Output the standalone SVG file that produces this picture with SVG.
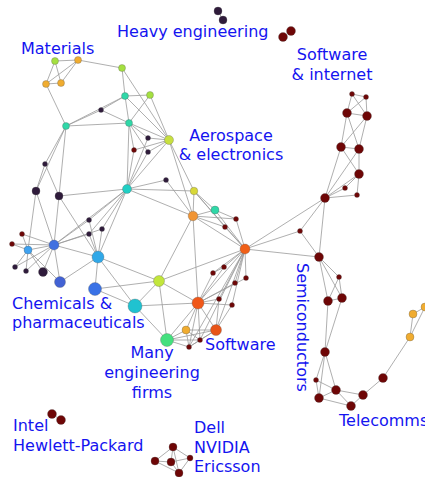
<svg xmlns="http://www.w3.org/2000/svg" width="425" height="477" viewBox="0 0 425 477">
<style>
.e line{stroke:#9a9a9a;stroke-width:0.8}
circle{stroke:#555;stroke-width:0.5;stroke-opacity:0.6}
.pu{fill:#2f1b3b}.dr{fill:#6e0606}.or{fill:#f0ac30}.lg{fill:#a4e040}.tg{fill:#30d8a8}
.tc{fill:#20cfc4}.tb{fill:#20c2d0}.yg{fill:#c8e040}.yy{fill:#d8d838}.y3{fill:#c2e63c}
.o1{fill:#f09434}.o2{fill:#f06018}.o3{fill:#f0581a}.o4{fill:#e85418}.gr{fill:#44e07e}
.b1{fill:#4070e0}.lb{fill:#3fa2f0}.b2{fill:#30a8e8}.b3{fill:#4262d4}.b4{fill:#3a72e6}
text{font-family:"DejaVu Sans",Verdana,sans-serif;font-size:16px;fill:#1414f0}
</style>
<g id="connectors" class="e">
<line x1="55" y1="61" x2="78" y2="60"/><line x1="55" y1="61" x2="46" y2="84"/><line x1="55" y1="61" x2="61" y2="83"/>
<line x1="78" y1="60" x2="46" y2="84"/><line x1="78" y1="60" x2="61" y2="83"/><line x1="46" y1="84" x2="61" y2="83"/>
<line x1="78" y1="60" x2="122" y2="68"/><line x1="46" y1="84" x2="66" y2="126"/>
<line x1="122" y1="68" x2="125" y2="96"/><line x1="122" y1="68" x2="169" y2="140"/>
<line x1="125" y1="96" x2="150" y2="95"/><line x1="125" y1="96" x2="66" y2="126"/><line x1="125" y1="96" x2="101" y2="110"/>
<line x1="125" y1="96" x2="129" y2="123"/><line x1="125" y1="96" x2="169" y2="140"/>
<line x1="150" y1="95" x2="129" y2="123"/><line x1="150" y1="95" x2="169" y2="140"/>
<line x1="101" y1="110" x2="66" y2="126"/><line x1="101" y1="110" x2="129" y2="123"/>
<line x1="66" y1="126" x2="129" y2="123"/><line x1="66" y1="126" x2="45" y2="164"/><line x1="66" y1="126" x2="36" y2="191"/><line x1="66" y1="126" x2="59" y2="196"/>
<line x1="129" y1="123" x2="169" y2="140"/><line x1="129" y1="123" x2="148" y2="138"/><line x1="129" y1="123" x2="134" y2="150"/>
<line x1="129" y1="123" x2="148" y2="152"/><line x1="129" y1="123" x2="127" y2="189"/>
<line x1="169" y1="140" x2="148" y2="138"/><line x1="169" y1="140" x2="148" y2="152"/><line x1="169" y1="140" x2="134" y2="150"/>
<line x1="169" y1="140" x2="127" y2="189"/><line x1="169" y1="140" x2="194" y2="191"/><line x1="169" y1="140" x2="193" y2="216"/>
<line x1="127" y1="189" x2="148" y2="138"/><line x1="127" y1="189" x2="134" y2="150"/><line x1="127" y1="189" x2="148" y2="152"/>
<line x1="127" y1="189" x2="166" y2="180"/><line x1="127" y1="189" x2="194" y2="191"/><line x1="127" y1="189" x2="193" y2="216"/>
<line x1="127" y1="189" x2="59" y2="196"/><line x1="127" y1="189" x2="89" y2="220"/><line x1="127" y1="189" x2="102" y2="229"/>
<line x1="127" y1="189" x2="89" y2="234"/><line x1="127" y1="189" x2="54" y2="245"/><line x1="127" y1="189" x2="98" y2="257"/>
<line x1="166" y1="180" x2="193" y2="216"/>
<line x1="194" y1="191" x2="193" y2="216"/><line x1="194" y1="191" x2="215" y2="210"/><line x1="194" y1="191" x2="225" y2="227"/><line x1="194" y1="191" x2="245" y2="249"/>
<line x1="193" y1="216" x2="215" y2="210"/><line x1="193" y1="216" x2="236" y2="219"/><line x1="193" y1="216" x2="225" y2="227"/>
<line x1="193" y1="216" x2="245" y2="249"/><line x1="193" y1="216" x2="159" y2="281"/><line x1="193" y1="216" x2="198" y2="303"/>
<line x1="215" y1="210" x2="245" y2="249"/><line x1="215" y1="210" x2="236" y2="219"/>
<line x1="236" y1="219" x2="245" y2="249"/><line x1="225" y1="227" x2="245" y2="249"/>
<line x1="245" y1="249" x2="159" y2="281"/><line x1="245" y1="249" x2="213" y2="273"/><line x1="245" y1="249" x2="224" y2="267"/>
<line x1="245" y1="249" x2="246" y2="278"/><line x1="245" y1="249" x2="235" y2="283"/><line x1="245" y1="249" x2="219" y2="299"/>
<line x1="245" y1="249" x2="232" y2="305"/><line x1="245" y1="249" x2="198" y2="303"/><line x1="245" y1="249" x2="216" y2="330"/>
<line x1="245" y1="249" x2="325" y2="198"/><line x1="245" y1="249" x2="300" y2="231"/><line x1="245" y1="249" x2="319" y2="257"/>
<line x1="245" y1="249" x2="200" y2="340"/><line x1="245" y1="249" x2="189" y2="347"/>
<line x1="213" y1="273" x2="224" y2="267"/><line x1="213" y1="273" x2="198" y2="303"/><line x1="224" y1="267" x2="198" y2="303"/>
<line x1="246" y1="278" x2="198" y2="303"/><line x1="235" y1="283" x2="198" y2="303"/><line x1="219" y1="299" x2="198" y2="303"/>
<line x1="219" y1="299" x2="216" y2="330"/><line x1="232" y1="305" x2="216" y2="330"/><line x1="232" y1="305" x2="198" y2="303"/>
<line x1="198" y1="303" x2="159" y2="281"/><line x1="198" y1="303" x2="167" y2="340"/><line x1="198" y1="303" x2="186" y2="330"/>
<line x1="198" y1="303" x2="216" y2="330"/><line x1="198" y1="303" x2="200" y2="340"/><line x1="198" y1="303" x2="189" y2="347"/>
<line x1="198" y1="303" x2="135" y2="306"/>
<line x1="216" y1="330" x2="186" y2="330"/><line x1="216" y1="330" x2="167" y2="340"/><line x1="216" y1="330" x2="200" y2="340"/><line x1="216" y1="330" x2="189" y2="347"/>
<line x1="167" y1="340" x2="159" y2="281"/><line x1="167" y1="340" x2="186" y2="330"/><line x1="167" y1="340" x2="200" y2="340"/>
<line x1="167" y1="340" x2="189" y2="347"/><line x1="167" y1="340" x2="135" y2="306"/>
<line x1="186" y1="330" x2="200" y2="340"/><line x1="200" y1="340" x2="189" y2="347"/><line x1="186" y1="330" x2="189" y2="347"/>
<line x1="159" y1="281" x2="98" y2="257"/><line x1="159" y1="281" x2="95" y2="289"/><line x1="159" y1="281" x2="135" y2="306"/>
<line x1="135" y1="306" x2="95" y2="289"/><line x1="135" y1="306" x2="98" y2="257"/>
<line x1="98" y1="257" x2="95" y2="289"/><line x1="98" y1="257" x2="60" y2="282"/><line x1="98" y1="257" x2="89" y2="220"/>
<line x1="98" y1="257" x2="102" y2="229"/><line x1="98" y1="257" x2="89" y2="234"/><line x1="98" y1="257" x2="54" y2="245"/><line x1="98" y1="257" x2="59" y2="196"/>
<line x1="54" y1="245" x2="28" y2="250"/><line x1="54" y1="245" x2="36" y2="191"/><line x1="54" y1="245" x2="59" y2="196"/>
<line x1="54" y1="245" x2="43" y2="272"/><line x1="54" y1="245" x2="60" y2="282"/><line x1="54" y1="245" x2="15" y2="267"/>
<line x1="54" y1="245" x2="26" y2="271"/><line x1="54" y1="245" x2="22" y2="234"/><line x1="54" y1="245" x2="12" y2="244"/>
<line x1="54" y1="245" x2="89" y2="220"/><line x1="54" y1="245" x2="102" y2="229"/><line x1="54" y1="245" x2="89" y2="234"/>
<line x1="28" y1="250" x2="22" y2="234"/><line x1="28" y1="250" x2="12" y2="244"/><line x1="28" y1="250" x2="15" y2="267"/>
<line x1="28" y1="250" x2="26" y2="271"/><line x1="28" y1="250" x2="36" y2="191"/><line x1="28" y1="250" x2="43" y2="272"/><line x1="28" y1="250" x2="60" y2="282"/>
<line x1="45" y1="164" x2="36" y2="191"/><line x1="45" y1="164" x2="59" y2="196"/>
<line x1="325" y1="198" x2="341" y2="147"/><line x1="325" y1="198" x2="359" y2="149"/><line x1="325" y1="198" x2="359" y2="174"/>
<line x1="325" y1="198" x2="345" y2="188"/><line x1="325" y1="198" x2="357" y2="195"/><line x1="325" y1="198" x2="300" y2="231"/><line x1="325" y1="198" x2="319" y2="257"/>
<line x1="352" y1="94" x2="366" y2="97"/><line x1="352" y1="94" x2="347" y2="113"/><line x1="352" y1="94" x2="367" y2="116"/>
<line x1="366" y1="97" x2="367" y2="116"/><line x1="366" y1="97" x2="347" y2="113"/><line x1="347" y1="113" x2="367" y2="116"/>
<line x1="347" y1="113" x2="341" y2="147"/><line x1="347" y1="113" x2="359" y2="149"/><line x1="367" y1="116" x2="359" y2="149"/>
<line x1="367" y1="116" x2="341" y2="147"/><line x1="341" y1="147" x2="359" y2="149"/><line x1="359" y1="149" x2="359" y2="174"/><line x1="341" y1="147" x2="359" y2="174"/>
<line x1="359" y1="174" x2="345" y2="188"/><line x1="359" y1="174" x2="357" y2="195"/>
<line x1="300" y1="231" x2="319" y2="257"/>
<line x1="319" y1="257" x2="339" y2="277"/><line x1="319" y1="257" x2="328" y2="301"/><line x1="319" y1="257" x2="342" y2="298"/>
<line x1="339" y1="277" x2="328" y2="301"/><line x1="339" y1="277" x2="342" y2="298"/><line x1="342" y1="298" x2="328" y2="301"/>
<line x1="328" y1="301" x2="325" y2="352"/><line x1="342" y1="298" x2="325" y2="352"/>
<line x1="325" y1="352" x2="316" y2="380"/><line x1="325" y1="352" x2="336" y2="390"/><line x1="325" y1="352" x2="319" y2="398"/>
<line x1="316" y1="380" x2="336" y2="390"/><line x1="316" y1="380" x2="319" y2="398"/><line x1="336" y1="390" x2="319" y2="398"/>
<line x1="336" y1="390" x2="351" y2="406"/><line x1="319" y1="398" x2="351" y2="406"/><line x1="336" y1="390" x2="363" y2="395"/>
<line x1="351" y1="406" x2="363" y2="395"/><line x1="363" y1="395" x2="383" y2="378"/><line x1="383" y1="378" x2="410" y2="337"/>
<line x1="410" y1="337" x2="413" y2="314"/><line x1="410" y1="337" x2="425" y2="307"/><line x1="413" y1="314" x2="425" y2="307"/>
<line x1="218" y1="11" x2="223" y2="20"/><line x1="291" y1="31" x2="283" y2="37"/><line x1="52" y1="414" x2="61" y2="420"/>
<line x1="173" y1="447" x2="155" y2="461"/><line x1="173" y1="447" x2="171" y2="462"/><line x1="173" y1="447" x2="190" y2="458"/>
<line x1="173" y1="447" x2="179" y2="473"/><line x1="155" y1="461" x2="171" y2="462"/><line x1="155" y1="461" x2="179" y2="473"/>
<line x1="171" y1="462" x2="190" y2="458"/><line x1="171" y1="462" x2="179" y2="473"/><line x1="190" y1="458" x2="179" y2="473"/>
</g>
<g id="n-materials"><circle class="lg" cx="55" cy="61" r="3.5"/><circle class="or" cx="78" cy="60" r="3.5"/><circle class="or" cx="46" cy="84" r="3.5"/><circle class="or" cx="61" cy="83" r="3.5"/></g>
<g id="n-g1"><circle class="lg" cx="122" cy="68" r="3.5"/></g>
<g id="n-t1"><circle class="tg" cx="125" cy="96" r="3.5"/></g>
<g id="n-g2"><circle class="lg" cx="150" cy="95" r="3.5"/></g>
<g id="n-p1"><circle class="pu" cx="101" cy="110" r="2.5"/></g>
<g id="n-t2"><circle class="tg" cx="66" cy="126" r="3.5"/></g>
<g id="n-t3"><circle class="tg" cx="129" cy="123" r="3.5"/></g>
<g id="n-y1"><circle class="yg" cx="169" cy="140" r="4.5"/></g>
<g id="n-small-a"><circle class="pu" cx="148" cy="138" r="2.5"/><circle class="dr" cx="134" cy="150" r="2.5"/><circle class="pu" cx="148" cy="152" r="2.5"/><circle class="pu" cx="166" cy="180" r="2.5"/></g>
<g id="n-t4"><circle class="tc" cx="127" cy="189" r="4.5"/></g>
<g id="n-y2"><circle class="yy" cx="194" cy="191" r="3.8"/></g>
<g id="n-o1"><circle class="o1" cx="193" cy="216" r="4.8"/></g>
<g id="n-t5"><circle class="tg" cx="215" cy="210" r="4"/></g>
<g id="n-small-b"><circle class="dr" cx="236" cy="219" r="2.5"/><circle class="dr" cx="225" cy="227" r="2.5"/></g>
<g id="n-o2"><circle class="o2" cx="245" cy="249" r="5"/></g>
<g id="n-y3"><circle class="y3" cx="159" cy="281" r="5.5"/></g>
<g id="n-small-c"><circle class="dr" cx="213" cy="273" r="2.5"/><circle class="dr" cx="224" cy="267" r="2.5"/><circle class="dr" cx="246" cy="278" r="2.5"/><circle class="dr" cx="235" cy="283" r="2.5"/><circle class="dr" cx="219" cy="299" r="2.5"/><circle class="dr" cx="232" cy="305" r="2.5"/><circle class="dr" cx="200" cy="340" r="2.5"/><circle class="dr" cx="189" cy="347" r="2.5"/></g>
<g id="n-o3"><circle class="o3" cx="198" cy="303" r="6"/></g>
<g id="n-o4"><circle class="o4" cx="216" cy="330" r="5.5"/></g>
<g id="n-or5"><circle class="or" cx="186" cy="330" r="4"/></g>
<g id="n-g3"><circle class="gr" cx="167" cy="340" r="6.5"/></g>
<g id="n-left-dark"><circle class="pu" cx="45" cy="164" r="2.5"/><circle class="pu" cx="36" cy="191" r="4"/><circle class="pu" cx="59" cy="196" r="4"/><circle class="pu" cx="89" cy="220" r="2.5"/><circle class="pu" cx="102" cy="229" r="2.5"/><circle class="pu" cx="89" cy="234" r="2.5"/><circle class="dr" cx="22" cy="234" r="2.5"/><circle class="dr" cx="12" cy="244" r="2.5"/><circle class="pu" cx="15" cy="267" r="2.5"/><circle class="pu" cx="26" cy="271" r="2.5"/><circle class="pu" cx="43" cy="272" r="4.5"/></g>
<g id="n-b1"><circle class="b1" cx="54" cy="245" r="5"/></g>
<g id="n-lb1"><circle class="lb" cx="28" cy="250" r="4"/></g>
<g id="n-b2"><circle class="b2" cx="98" cy="257" r="6"/></g>
<g id="n-b3"><circle class="b3" cx="60" cy="282" r="5.5"/></g>
<g id="n-b4"><circle class="b4" cx="95" cy="289" r="6.5"/></g>
<g id="n-t6"><circle class="tb" cx="135" cy="306" r="7"/></g>
<g id="n-internet"><circle class="dr" cx="352" cy="94" r="2.5"/><circle class="dr" cx="366" cy="97" r="2.5"/><circle class="dr" cx="347" cy="113" r="4.5"/><circle class="dr" cx="367" cy="116" r="4.5"/><circle class="dr" cx="341" cy="147" r="4.5"/><circle class="dr" cx="359" cy="149" r="4.5"/><circle class="dr" cx="359" cy="174" r="4.5"/><circle class="dr" cx="345" cy="188" r="2.5"/><circle class="dr" cx="357" cy="195" r="2.5"/><circle class="dr" cx="325" cy="198" r="4.5"/></g>
<g id="n-semi"><circle class="dr" cx="300" cy="231" r="2.5"/><circle class="dr" cx="319" cy="257" r="4.5"/><circle class="dr" cx="339" cy="277" r="2.5"/><circle class="dr" cx="342" cy="298" r="4.5"/><circle class="dr" cx="328" cy="301" r="4.5"/><circle class="dr" cx="325" cy="352" r="4.5"/><circle class="dr" cx="316" cy="380" r="2.5"/><circle class="dr" cx="336" cy="390" r="4.5"/><circle class="dr" cx="319" cy="398" r="4.5"/><circle class="dr" cx="351" cy="406" r="4.5"/><circle class="dr" cx="363" cy="395" r="4.5"/><circle class="dr" cx="383" cy="378" r="4.5"/></g>
<g id="n-telecom"><circle class="or" cx="410" cy="337" r="4"/><circle class="or" cx="413" cy="314" r="4"/><circle class="or" cx="425" cy="307" r="4"/></g>
<g id="n-heavy"><circle class="pu" cx="218" cy="11" r="4"/><circle class="pu" cx="223" cy="20" r="4"/></g>
<g id="n-software-pair"><circle class="dr" cx="291" cy="31" r="4.5"/><circle class="dr" cx="283" cy="37" r="4.5"/></g>
<g id="n-intel"><circle class="dr" cx="52" cy="414" r="4.5"/><circle class="dr" cx="61" cy="420" r="4.5"/></g>
<g id="n-dell"><circle class="dr" cx="173" cy="447" r="4"/><circle class="dr" cx="155" cy="461" r="4"/><circle class="dr" cx="171" cy="462" r="4"/><circle class="dr" cx="190" cy="458" r="3"/><circle class="dr" cx="179" cy="473" r="4"/></g>
<g id="labels">
<text x="117" y="37">Heavy engineering</text>
<text x="21" y="54">Materials</text>
<text x="332" y="60" text-anchor="middle">Software</text>
<text x="332" y="80" text-anchor="middle">&amp; internet</text>
<text x="231" y="140.5" text-anchor="middle">Aerospace</text>
<text x="231" y="160" text-anchor="middle">&amp; electronics</text>
<text x="12" y="308.5">Chemicals &amp;</text>
<text x="12" y="328">pharmaceuticals</text>
<text x="152" y="358" text-anchor="middle">Many</text>
<text x="152" y="378" text-anchor="middle">engineering</text>
<text x="152" y="397.5" text-anchor="middle">firms</text>
<text x="205" y="350">Software</text>
<text transform="translate(297,263) rotate(90)">Semiconductors</text>
<text x="339" y="426">Telecomms</text>
<text x="13" y="431">Intel</text>
<text x="13" y="451">Hewlett-Packard</text>
<text x="194" y="433">Dell</text>
<text x="194" y="453">NVIDIA</text>
<text x="194" y="472">Ericsson</text>
</g>
</svg>
